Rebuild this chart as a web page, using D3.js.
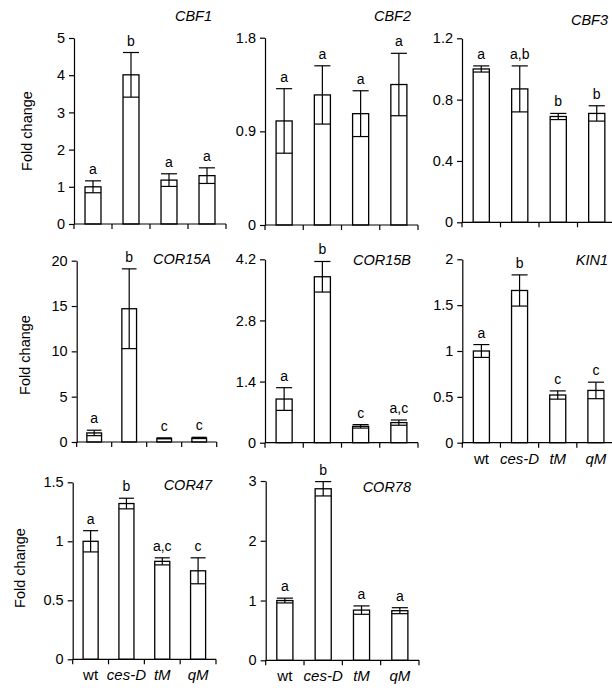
<!DOCTYPE html>
<html>
<head>
<meta charset="utf-8">
<script src="https://cdn.jsdelivr.net/npm/d3@7"></script>
<style>
  body { margin: 0; background: #fff; }
  svg { display: block; font-family: Arial, "Liberation Sans", sans-serif; }
</style>
</head>
<body>
<svg id="chart" width="612" height="693"></svg>
<script>
// genotypes on the x axis
const genotypes = ["wt", "ces-D", "tM", "qM"];
const italicGenotypes = ["ces-D", "tM", "qM"];

// fold change means, error (sd) and significance letters per gene
const meanCBF1 = [1.0, 4.01, 1.18, 1.30];
const errCBF1 = [0.16, 0.60, 0.17, 0.21];
const lettersCBF1 = ["a", "b", "a", "a"];
const ticksCBF1 = [0, 1, 2, 3, 4, 5];

const meanCBF2 = [1.0, 1.25, 1.07, 1.35];
const errCBF2 = [0.31, 0.28, 0.22, 0.30];
const lettersCBF2 = ["a", "a", "a", "a"];
const ticksCBF2 = [0, 0.9, 1.8];

const meanCBF3 = [1.0, 0.87, 0.69, 0.71];
const errCBF3 = [0.02, 0.15, 0.02, 0.05];
const lettersCBF3 = ["a", "a,b", "b", "b"];
const ticksCBF3 = [0, 0.4, 0.8, 1.2];

const meanCOR15A = [1.0, 14.7, 0.4, 0.45];
const errCOR15A = [0.3, 4.4, 0.05, 0.07];
const lettersCOR15A = ["a", "b", "c", "c"];
const ticksCOR15A = [0, 5, 10, 15, 20];

const meanCOR15B = [1.0, 3.80, 0.375, 0.46];
const errCOR15B = [0.26, 0.35, 0.04, 0.06];
const lettersCOR15B = ["a", "b", "c", "a,c"];
const ticksCOR15B = [0, 1.4, 2.8, 4.2];

const meanKIN1 = [1.0, 1.66, 0.52, 0.57];
const errKIN1 = [0.07, 0.17, 0.045, 0.09];
const lettersKIN1 = ["a", "b", "c", "c"];
const ticksKIN1 = [0, 0.5, 1, 1.5, 2];

const meanCOR47 = [1.0, 1.32, 0.83, 0.75];
const errCOR47 = [0.09, 0.045, 0.03, 0.11];
const lettersCOR47 = ["a", "b", "a,c", "c"];
const ticksCOR47 = [0, 0.5, 1, 1.5];

const meanCOR78 = [1.0, 2.87, 0.84, 0.83];
const errCOR78 = [0.04, 0.12, 0.07, 0.05];
const lettersCOR78 = ["a", "b", "a", "a"];
const ticksCOR78 = [0, 1, 2, 3];

// panel layout (plot box, title anchor, whether genotype labels are shown)
const panels = [
    { gene: "CBF1", mean: meanCBF1, err: errCBF1, letters: lettersCBF1, ticks: ticksCBF1,
      x0: 74, x1: 226, y0: 38, y1: 224, tx: 212, ty: 21, xlab: false },
    { gene: "CBF2", mean: meanCBF2, err: errCBF2, letters: lettersCBF2, ticks: ticksCBF2,
      x0: 265, x1: 418, y0: 37.7, y1: 225, tx: 411, ty: 21, xlab: false },
    { gene: "CBF3", mean: meanCBF3, err: errCBF3, letters: lettersCBF3, ticks: ticksCBF3,
      x0: 462, x1: 616, y0: 38.3, y1: 222.3, tx: 608, ty: 25, xlab: false },
    { gene: "COR15A", mean: meanCOR15A, err: errCOR15A, letters: lettersCOR15A, ticks: ticksCOR15A,
      x0: 76.7, x1: 216.7, y0: 260.7, y1: 442, tx: 211, ty: 264, xlab: false },
    { gene: "COR15B", mean: meanCOR15B, err: errCOR15B, letters: lettersCOR15B, ticks: ticksCOR15B,
      x0: 265, x1: 418, y0: 259.3, y1: 442.7, tx: 411, ty: 265, xlab: false },
    { gene: "KIN1", mean: meanKIN1, err: errKIN1, letters: lettersKIN1, ticks: ticksKIN1,
      x0: 462.3, x1: 615, y0: 259.3, y1: 442.7, tx: 608, ty: 265, xlab: true },
    { gene: "COR47", mean: meanCOR47, err: errCOR47, letters: lettersCOR47, ticks: ticksCOR47,
      x0: 72.7, x1: 216, y0: 482.3, y1: 659.3, tx: 212, ty: 490, xlab: true },
    { gene: "COR78", mean: meanCOR78, err: errCOR78, letters: lettersCOR78, ticks: ticksCOR78,
      x0: 265.7, x1: 419, y0: 481, y1: 660.3, tx: 411, ty: 492, xlab: true }
];

// y axis titles, one per row
const rowLabels = [
    { x: 32, y: 131 },
    { x: 29.5, y: 355 },
    { x: 24.5, y: 568 }
];

const svg = d3.select("#chart");

svg.append("rect").attr("width", 612).attr("height", 693).attr("fill", "#fff");

rowLabels.forEach(r => {
    svg.append("text")
        .attr("transform", `translate(${r.x},${r.y}) rotate(-90)`)
        .attr("text-anchor", "middle")
        .style("font-size", "14.5px")
        .attr("fill", "#000")
        .text("Fold change");
});

panels.forEach(p => {
    const g = svg.append("g");

    const x = d3.scaleBand()
        .domain(genotypes)
        .range([p.x0, p.x1])
        .paddingInner(0.58)
        .paddingOuter(0.29);

    const y = d3.scaleLinear()
        .domain([0, d3.max(p.ticks)])
        .range([p.y1, p.y0]);

    const rows = genotypes.map((k, i) => ({ key: k, m: p.mean[i], e: p.err[i], l: p.letters[i] }));

    // y axis
    const yAxis = g.append("g")
        .attr("transform", `translate(${p.x0},0)`)
        .call(d3.axisLeft(y).tickValues(p.ticks).tickSize(5).tickSizeOuter(0).tickPadding(4)
            .tickFormat(d => String(d)));
    yAxis.select(".domain").attr("stroke", "#000").attr("stroke-width", 1.2);
    yAxis.selectAll(".tick line").attr("stroke", "#000").attr("stroke-width", 1.2);
    yAxis.selectAll(".tick text")
        .attr("fill", "#000")
        .style("font-size", "14.5px")
        .style("font-family", "Arial, 'Liberation Sans', sans-serif");

    // bars
    const bw = x.bandwidth();
    g.selectAll(".bar")
        .data(rows)
        .enter().append("rect")
        .attr("class", "bar")
        .attr("x", d => x(d.key))
        .attr("y", d => y(d.m))
        .attr("width", bw)
        .attr("height", d => y(0) - y(d.m))
        .attr("fill", "#fff")
        .attr("stroke", "#000")
        .attr("stroke-width", 1.3);

    // error bars
    const eb = g.selectAll(".err")
        .data(rows)
        .enter().append("g")
        .attr("class", "err")
        .attr("stroke", "#000")
        .attr("stroke-width", 1.2);
    eb.append("line")
        .attr("x1", d => x(d.key) + bw / 2)
        .attr("x2", d => x(d.key) + bw / 2)
        .attr("y1", d => y(d.m - d.e))
        .attr("y2", d => y(d.m + d.e));
    eb.append("line")
        .attr("x1", d => x(d.key))
        .attr("x2", d => x(d.key) + bw)
        .attr("y1", d => y(d.m + d.e))
        .attr("y2", d => y(d.m + d.e));
    eb.append("line")
        .attr("x1", d => x(d.key))
        .attr("x2", d => x(d.key) + bw)
        .attr("y1", d => y(d.m - d.e))
        .attr("y2", d => y(d.m - d.e));

    // significance letters
    g.selectAll(".letter")
        .data(rows)
        .enter().append("text")
        .attr("class", "letter")
        .attr("x", d => x(d.key) + bw / 2)
        .attr("y", d => y(d.m + d.e) - 7)
        .attr("text-anchor", "middle")
        .attr("fill", "#000")
        .style("font-size", "14px")
        .text(d => d.l);

    // x axis line with ticks at band boundaries
    const bounds = genotypes.map(k => x(k) + bw / 2 - x.step() / 2).concat([p.x1]);
    g.append("line")
        .attr("x1", p.x0).attr("x2", p.x1)
        .attr("y1", y(0)).attr("y2", y(0))
        .attr("stroke", "#000").attr("stroke-width", 1.2);
    g.selectAll(".xtick")
        .data(bounds)
        .enter().append("line")
        .attr("class", "xtick")
        .attr("x1", d => d).attr("x2", d => d)
        .attr("y1", y(0)).attr("y2", y(0) + 5)
        .attr("stroke", "#000").attr("stroke-width", 1.2);

    if (p.xlab) {
        g.selectAll(".xlab")
            .data(genotypes)
            .enter().append("text")
            .attr("class", "xlab")
            .attr("x", d => x(d) + bw / 2)
            .attr("y", y(0) + 21)
            .attr("text-anchor", "middle")
            .attr("fill", "#000")
            .style("font-size", "15px")
            .style("font-style", d => italicGenotypes.includes(d) ? "italic" : "normal")
            .text(d => d);
    }

    // gene title
    g.append("text")
        .attr("x", p.tx)
        .attr("y", p.ty)
        .attr("text-anchor", "end")
        .attr("fill", "#000")
        .style("font-size", "14.5px")
        .style("font-style", "italic")
        .text(p.gene);
});
</script>
</body>
</html>
